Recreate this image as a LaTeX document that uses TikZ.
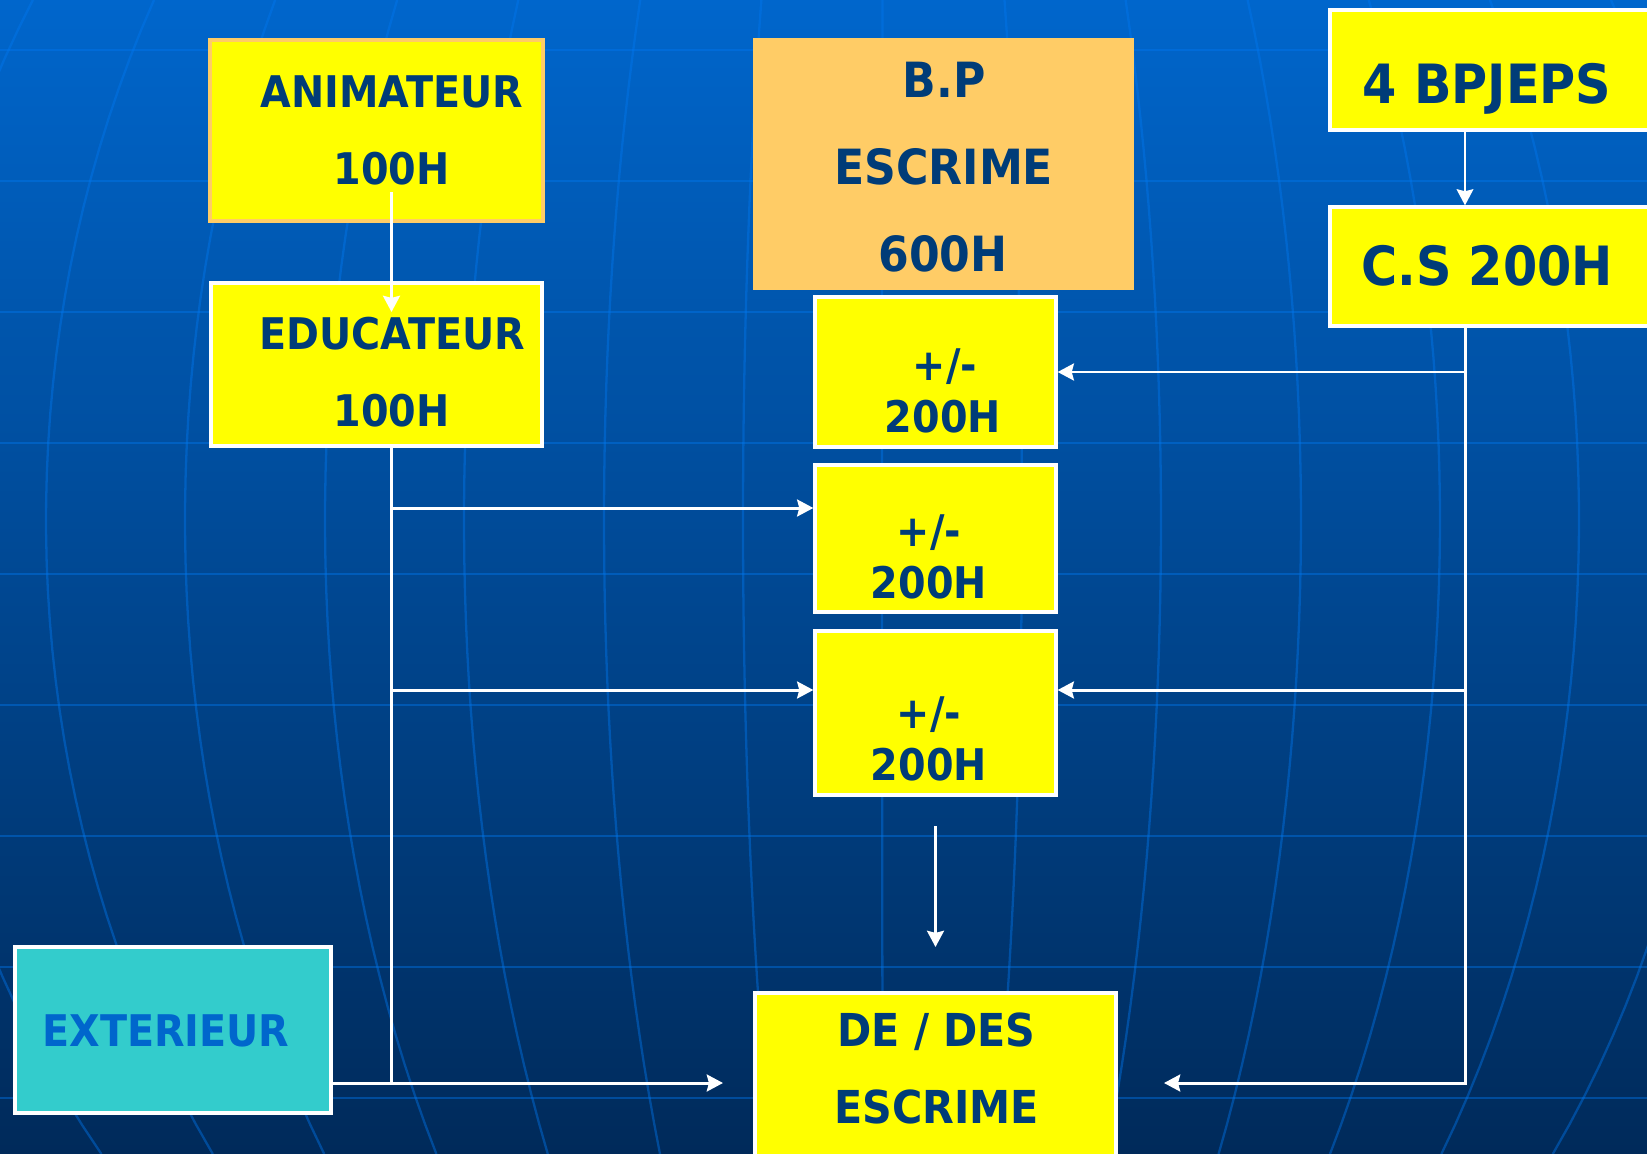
\documentclass[tikz,border=0pt]{standalone}
\usepackage{fontspec}
\setmainfont{DejaVu Sans}[FakeStretch=0.91]
\usetikzlibrary{arrows.meta,fit,calc}
\definecolor{navy}{HTML}{003C78}
\definecolor{ylw}{HTML}{FFFF00}
\definecolor{org}{HTML}{FFCC66}
\definecolor{tealbox}{HTML}{33CCCC}
\definecolor{extblue}{HTML}{0066CC}
\definecolor{bgtop}{RGB}{0,102,204}
\definecolor{bgbot}{RGB}{0,42,90}
\definecolor{gridc}{RGB}{0,120,240}
\begin{document}
\begin{tikzpicture}[x=0.01cm,y=-0.01cm,
  ybox/.style={fill=ylw, draw=white, line width=0.95pt, inner sep=0pt},
  lbl/.style={text=navy, font=\bfseries\fontsize{12.4}{14}\selectfont, anchor=base, inner sep=0pt},
  lblbig/.style={lbl, font=\bfseries\fontsize{13.8}{16}\selectfont},
  lblhuge/.style={lbl, font=\bfseries\fontsize{15.4}{18}\selectfont},
  lblde/.style={lbl, font=\bfseries\fontsize{12.9}{15}\selectfont},
  conn/.style={draw=white, line width=0.85pt},
  arr/.style={conn, -{Stealth[length=4.6pt,width=4.8pt,inset=0.6pt]}},
  gridh/.style={draw=gridc, opacity=0.42, line width=0.8pt},
  gridm/.style={draw=gridc, opacity=0.42, line width=0.65pt},
]
\useasboundingbox (0,0) rectangle (1647,1154);
\begin{scope}
\clip (0,0) rectangle (1647,1154);
\shade[top color=bgtop, bottom color=bgbot] (0,0) rectangle (1647,1154);
\foreach \yy in {50,181,312,443,574,705,836,967,1098}
  \draw[gridh] (0,\yy) -- (1647,\yy);
\foreach \xb in {-93,46,185,325,464,604,743,882,1022,1161,1301,1440,1579,1718}
  \draw[gridm, domain=0:1154, samples=40, variable=\t]
    plot ({886+(\xb-886)*sqrt(1-((\t-520)/1060)^2)}, \t);

% boxes
\node[ybox, draw=org, fit={(210,40) (543,221)}] (anim) {};
\node[ybox, fit={(211,283) (542,446)}] (educ) {};
\node[ybox, fill=org, draw=org, fit={(755,40) (1132,288)}] (bp) {};
\node[ybox, fit={(1330,10) (1665,130)}] (bpj) {};
\node[ybox, fit={(1330,207) (1665,326)}] (cs) {};
\node[ybox, fit={(815,297) (1056,447)}] (b1) {};
\node[ybox, fit={(815,465) (1056,612)}] (b2) {};
\node[ybox, fit={(815,631) (1056,795)}] (b3) {};
\node[ybox, fill=tealbox, fit={(15,947) (331,1113)}] (ext) {};
\node[ybox, fit={(755,993) (1116,1180)}] (de) {};

% labels
\node[lbl] (tAnim) at (392,107) {ANIMATEUR};
\node[lbl] (tAnimH) at (391.5,184) {100H};
\node[lbl] (tEduc) at (392,349) {EDUCATEUR};
\node[lbl] (tEducH) at (391.5,426) {100H};
\node[lblbig] (tBP) at (944,97) {B.P};
\node[lblbig] (tBPesc) at (943.7,184) {ESCRIME};
\node[lblbig] (tBPh) at (943,271) {600H};
\node[lblhuge] (tBpj) at (1487,103) {4 BPJEPS};
\node[lblhuge] (tCs) at (1487,285) {C.S 200H};
\node[lbl] (t1a) at (945,380) {+/-};
\node[lbl] (t1b) at (943,432) {200H};
\node[lbl] (t2a) at (929,546) {+/-};
\node[lbl] (t2b) at (929,598) {200H};
\node[lbl] (t3a) at (929,728) {+/-};
\node[lbl] (t3b) at (929,780) {200H};
\node[lbl, text=extblue] (tExt) at (166,1046) {EXTERIEUR};
\node[lblde] (tDe) at (936.5,1046) {DE / DES};
\node[lblde] (tDeEsc) at (936.5,1123) {ESCRIME};

% connectors
\coordinate (a1) at (391.5,192);
\coordinate (a2) at (391.5,312);
\draw[arr] (a1) -- (a2);
\coordinate (lt) at (391.5,448);
\coordinate (lb) at (391.5,1083);
\coordinate (y2) at (0,508);
\coordinate (y3) at (0,690);
\draw[conn] (lt) -- (lb);
\draw[arr] (lt |- y2) -- (b2.west |- y2);
\draw[arr] (lt |- y3) -- (b3.west |- y3);
\coordinate (tipL) at (723,1083);
\draw[arr] (ext.east |- lb) -- (tipL);
\coordinate (rt) at (1465,328);
\coordinate (rb) at (1465,1083);
\coordinate (tipR) at (1164,1083);
\draw[arr] (rt) -- (rb) -- (tipR);
\draw[arr] (rt |- b1.east) -- (b1.east);
\draw[arr] (rt |- y3) -- (b3.east |- y3);
\draw[arr, line width=0.5pt] (bpj.south -| rt) -- (cs.north -| rt);
\coordinate (d1) at (935.5,826);
\coordinate (d2) at (935.5,947);
\draw[arr] (d1) -- (d2);
\end{scope}
\end{tikzpicture}
\end{document}
